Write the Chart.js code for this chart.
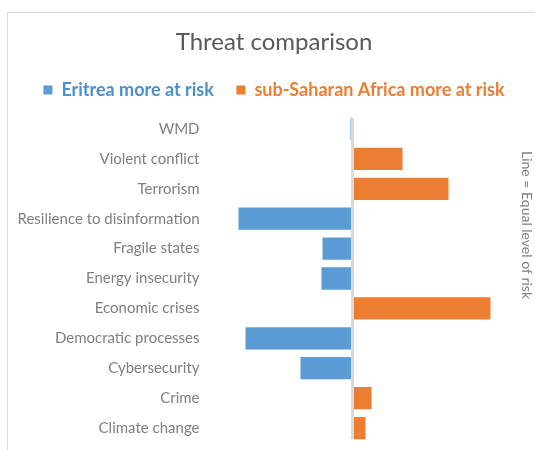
<!DOCTYPE html>
<html>
<head>
<meta charset="utf-8">
<script src="https://cdn.jsdelivr.net/npm/chart.js@4"></script>
<style>
  body { margin: 0; background: #fff; }
  .frame {
    position: absolute;
    left: 7px;
    top: 12px;
    border-left: 1px solid #d9d9d9;
    border-top: 1px solid #d9d9d9;
  }
  canvas { display: block; }
</style>
</head>
<body>
<div class="frame">
  <canvas id="threatChart" width="527" height="437"></canvas>
</div>
<script>
const categories = [
  'WMD', 'Violent conflict', 'Terrorism', 'Resilience to disinformation',
  'Fragile states', 'Energy insecurity', 'Economic crises',
  'Democratic processes', 'Cybersecurity', 'Crime', 'Climate change'
];
const eritreaRisk = [-0.2, null, null, -11.4, -3.0, -3.1, null, -10.7, -5.2, null, null];
const africaRisk = [null, 5.0, 9.6, null, null, null, 13.8, null, null, 1.9, 1.3];

const BLUE = '#5b9bd5';
const ORANGE = '#ed7d31';

// grey line at zero, drawn over the bars
const equalLine = {
  id: 'equalLine',
  afterDatasetsDraw(chart) {
    const { ctx, chartArea, scales } = chart;
    const x = scales.x.getPixelForValue(0);
    ctx.save();
    ctx.strokeStyle = '#d9d9d9';
    ctx.lineWidth = 3;
    ctx.beginPath();
    ctx.moveTo(x, chartArea.top + 4);
    ctx.lineTo(x, chartArea.bottom - 4);
    ctx.stroke();
    ctx.restore();
  },
  afterDraw(chart) {
    const { ctx } = chart;
    ctx.save();
    ctx.translate(519, 212);
    ctx.rotate(Math.PI / 2);
    ctx.fillStyle = '#7f7f7f';
    ctx.font = '14px Lato';
    ctx.textAlign = 'center';
    ctx.textBaseline = 'middle';
    ctx.fillText('Line = Equal level of risk', 0, 0);
    ctx.restore();
  }
};

new Chart(document.getElementById('threatChart'), {
  type: 'bar',
  data: {
    labels: categories,
    datasets: [
      { label: 'Eritrea more at risk', data: eritreaRisk, backgroundColor: BLUE },
      { label: 'sub-Saharan Africa more at risk', data: africaRisk, backgroundColor: ORANGE }
    ]
  },
  options: {
    indexAxis: 'y',
    responsive: false,
    animation: false,
    layout: { padding: { left: 5, right: 0, top: 0, bottom: 7 } },
    datasets: { bar: { barPercentage: 0.745, categoryPercentage: 1 } },
    scales: {
      x: {
        position: 'top',
        stacked: true,
        min: -15,
        max: 18.25,
        // invisible, only keeps a small gap under the legend
        grid: { drawOnChartArea: false, drawTicks: true, tickLength: 5, color: 'transparent' },
        ticks: { display: false },
        border: { display: false }
      },
      y: {
        stacked: true,
        grid: { display: false, drawTicks: false },
        border: { display: false },
        ticks: {
          color: '#7f7f7f',
          padding: 3,
          font: { family: 'Lato', size: 15 }
        },
        afterFit(scale) {
          scale.width = 189.5;
          scale.paddingTop = 0;
          scale.paddingBottom = 0;
        }
      }
    },
    plugins: {
      title: {
        display: true,
        text: 'Threat comparison',
        color: '#595959',
        font: { family: 'Lato', size: 24, weight: 'normal' },
        padding: { top: 14.6, bottom: 2.1 }
      },
      legend: {
        labels: {
          boxWidth: 9,
          boxHeight: 9,
          padding: 22.5,
          font: { family: 'Lato', size: 18, weight: 'bold' },
          generateLabels(chart) {
            return chart.data.datasets.map((ds, i) => ({
              text: ds.label,
              fillStyle: ds.backgroundColor,
              strokeStyle: ds.backgroundColor,
              lineWidth: 0,
              fontColor: i === 0 ? '#4a90d0' : ORANGE,
              datasetIndex: i,
              hidden: false
            }));
          }
        }
      },
      tooltip: { enabled: false }
    }
  },
  plugins: [equalLine]
});
</script>
</body>
</html>
